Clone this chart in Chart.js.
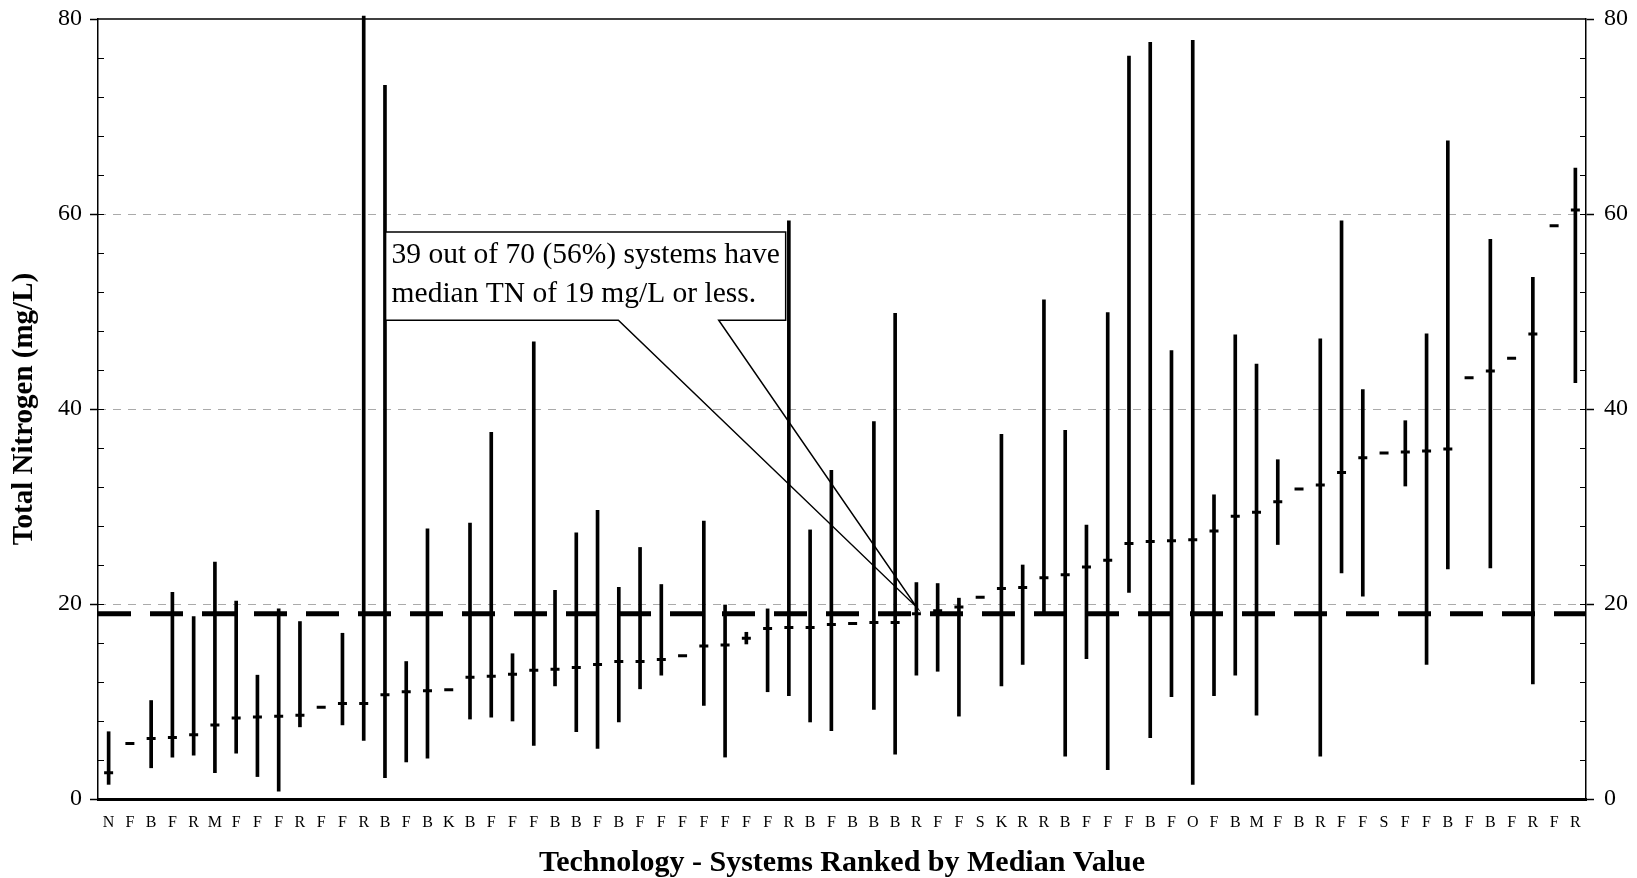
<!DOCTYPE html>
<html>
<head>
<meta charset="utf-8">
<title>Total Nitrogen by System</title>
<script src="https://cdn.jsdelivr.net/npm/chart.js@4.4.1/dist/chart.umd.min.js"></script>
<style>
  html, body { margin: 0; padding: 0; background: #fff; }
  #wrap { width: 1637px; height: 878px; }
</style>
</head>
<body>
<div id="wrap"><canvas id="tnChart" width="1637" height="878"></canvas></div>
<script>
// systems ranked by median total nitrogen (mg/L)
const technology = [
  'N','F','B','F','R','M','F','F','F','R','F','F','R','B','F','B','K','B','F','F',
  'F','B','B','F','B','F','F','F','F','F','F','F','R','B','F','B','B','B','R','F',
  'F','S','K','R','R','B','F','F','F','B','F','O','F','B','M','F','B','R','F','F',
  'S','F','F','B','F','B','F','R','F','R'
];
const tnMin = [
  1.5, 5.7, 3.2, 4.3, 4.5, 2.7, 4.7, 2.3, 0.8, 7.4, 9.4, 7.6, 6.0, 2.2, 3.8, 4.2, 11.2, 8.2, 8.4, 8.0,
  5.5, 11.6, 6.9, 5.2, 7.9, 11.3, 12.7, 14.7, 9.6, 4.3, 15.9, 11.0, 10.6, 7.9, 7.0, 18.0, 9.2, 4.6, 12.7, 13.1,
  8.5, 20.7, 11.6, 13.8, 19.1, 4.4, 14.4, 3.0, 21.2, 6.3, 10.5, 1.5, 10.6, 12.7, 8.6, 26.1, 31.8, 4.4, 23.2, 20.8,
  35.5, 32.1, 13.8, 23.6, 43.2, 23.7, 45.2, 11.8, 58.8, 42.7
];
const tnMedian = [
  2.7, 5.7, 6.2, 6.3, 6.6, 7.6, 8.3, 8.4, 8.5, 8.6, 9.4, 9.8, 9.8, 10.7, 11.0, 11.1, 11.2, 12.5, 12.6, 12.8,
  13.2, 13.3, 13.5, 13.8, 14.1, 14.1, 14.3, 14.7, 15.7, 15.8, 16.5, 17.5, 17.6, 17.6, 17.9, 18.0, 18.1, 18.1, 19.0, 19.3,
  19.7, 20.7, 21.6, 21.7, 22.7, 23.0, 23.8, 24.5, 26.2, 26.4, 26.5, 26.6, 27.5, 29.0, 29.4, 30.5, 31.8, 32.2, 33.5, 35.0,
  35.5, 35.6, 35.7, 35.9, 43.2, 43.9, 45.2, 47.7, 58.8, 60.4
];
const tnMax = [
  6.9, 5.7, 10.1, 21.2, 18.7, 24.3, 20.3, 12.7, 19.5, 18.2, 9.4, 17.0, 80.3, 73.2, 14.1, 27.7, 11.2, 28.3, 37.6, 14.9,
  46.9, 21.4, 27.3, 29.6, 21.7, 25.8, 22.0, 14.7, 28.5, 19.9, 17.1, 19.5, 59.3, 27.6, 33.7, 18.0, 38.7, 49.8, 22.2, 22.1,
  20.6, 20.7, 37.4, 24.0, 51.2, 37.8, 28.1, 49.9, 76.2, 77.6, 46.0, 77.8, 31.2, 47.6, 44.6, 34.8, 31.8, 47.2, 59.3, 42.0,
  35.5, 38.8, 47.7, 67.5, 43.2, 57.4, 45.2, 53.5, 58.8, 64.7
];
const yTicks = [0, 20, 40, 60, 80];
const THRESHOLD = 19;

const calloutLines = ['39 out of 70 (56%) systems have', 'median TN of 19 mg/L or less.'];
// callout placed in axis units: category index across, mg/L up
const callout = { x0: 13.03, x1: 31.85, yTop: 58.15, yBottom: 49.1, baseL: 23.98, baseR: 28.7, tipX: 38, tipY: 19.7 };

const serif = "'Liberation Serif', 'Times New Roman', serif";

const axisDecor = {
  id: 'axisDecor',
  beforeDatasetsDraw(chart) {
    const ctx = chart.ctx;
    const { left, right, top } = chart.chartArea;
    const y = chart.scales.y;
    ctx.save();

    // light dashed gridlines
    ctx.strokeStyle = '#aaa';
    ctx.lineWidth = 1;
    ctx.setLineDash([8, 7]);
    yTicks.filter(v => v > 0 && v < 80).forEach(v => {
      const py = Math.round(y.getPixelForValue(v)) + 0.5;
      ctx.beginPath(); ctx.moveTo(left, py); ctx.lineTo(right, py); ctx.stroke();
    });

    // 19 mg/L reference line
    ctx.strokeStyle = '#000';
    ctx.lineWidth = 5;
    ctx.setLineDash([33, 19]);
    const ty = y.getPixelForValue(THRESHOLD);
    ctx.beginPath(); ctx.moveTo(left, ty); ctx.lineTo(right, ty); ctx.stroke();

    // top frame
    ctx.setLineDash([]);
    ctx.lineWidth = 1.5;
    ctx.beginPath(); ctx.moveTo(left, top); ctx.lineTo(right, top); ctx.stroke();

    // minor ticks every 4 and inner half of major ticks
    ctx.lineWidth = 1;
    for (let v = 4; v < 80; v += 4) {
      const py = Math.round(y.getPixelForValue(v)) + 0.5;
      ctx.beginPath();
      ctx.moveTo(left, py); ctx.lineTo(left + 6, py);
      ctx.moveTo(right - 6, py); ctx.lineTo(right, py);
      ctx.stroke();
    }
    ctx.restore();
  },
  afterDatasetsDraw(chart) {
    const ctx = chart.ctx;
    const x = chart.scales.x, y = chart.scales.y;
    const bx0 = x.getPixelForValue(callout.x0), bx1 = x.getPixelForValue(callout.x1);
    const by0 = y.getPixelForValue(callout.yTop), by1 = y.getPixelForValue(callout.yBottom);
    const wl = x.getPixelForValue(callout.baseL), wr = x.getPixelForValue(callout.baseR);
    const tx = x.getPixelForValue(callout.tipX), ty = y.getPixelForValue(callout.tipY);

    ctx.save();
    ctx.fillStyle = '#fff';
    ctx.fillRect(bx0, by0, bx1 - bx0, by1 - by0);
    ctx.strokeStyle = '#000';
    ctx.lineWidth = 1.5;
    ctx.beginPath();
    ctx.moveTo(bx0, by0);
    ctx.lineTo(bx1, by0);
    ctx.lineTo(bx1, by1);
    ctx.lineTo(wr, by1);
    ctx.lineTo(tx, ty);
    ctx.lineTo(wl, by1);
    ctx.lineTo(bx0, by1);
    ctx.closePath();
    ctx.stroke();

    ctx.fillStyle = '#000';
    ctx.font = '29.5px ' + serif;
    ctx.textBaseline = 'alphabetic';
    ctx.textAlign = 'left';
    ctx.fillText(calloutLines[0], bx0 + 6, by0 + 31);
    ctx.fillText(calloutLines[1], bx0 + 6, by0 + 70);
    ctx.restore();
  }
};

const yAxis = (position, pad) => ({
  type: 'linear',
  position: position,
  min: 0,
  max: 80,
  ticks: {
    stepSize: 20,
    color: '#000',
    padding: pad,
    font: { family: serif, size: 24 }
  },
  grid: {
    drawOnChartArea: false,
    drawTicks: true,
    tickLength: 8,
    tickWidth: 1.5,
    tickColor: '#000',
    color: '#000'
  },
  border: { display: true, color: '#000', width: 1.5 }
});

const yLeft = yAxis('left', 8);
yLeft.title = {
  display: true,
  text: 'Total Nitrogen (mg/L)',
  color: '#000',
  font: { family: serif, size: 29, weight: 'bold' },
  padding: { top: 7, bottom: 0 }
};
yLeft.afterFit = s => { s.width = 98; s.paddingTop = 0; s.paddingBottom = 0; };

const yRight = yAxis('right', 10);
yRight.afterFit = s => { s.width = 51; s.paddingTop = 0; s.paddingBottom = 0; };

new Chart(document.getElementById('tnChart'), {
  data: {
    labels: technology,
    datasets: [
      {
        type: 'bar',
        label: 'Range',
        data: tnMin.map((lo, i) => [lo, tnMax[i]]),
        backgroundColor: '#000',
        borderWidth: 0,
        barThickness: 3,
        clip: false,
        yAxisID: 'y'
      },
      {
        type: 'line',
        label: 'Median',
        data: tnMedian,
        showLine: false,
        pointStyle: 'line',
        pointRadius: 4.5,
        pointHoverRadius: 4.5,
        pointBorderWidth: 3,
        borderColor: '#000',
        backgroundColor: '#000',
        yAxisID: 'y'
      }
    ]
  },
  options: {
    responsive: false,
    animation: false,
    layout: { padding: { top: 19, left: 0, right: 0, bottom: 0 } },
    plugins: {
      legend: { display: false },
      tooltip: { enabled: false }
    },
    scales: {
      x: {
        type: 'category',
        offset: true,
        grid: { display: false, drawTicks: false },
        border: { display: true, color: '#000', width: 3 },
        ticks: {
          color: '#000',
          padding: 14,
          autoSkip: false,
          maxRotation: 0,
          font: { family: serif, size: 16 }
        },
        title: {
          display: true,
          text: 'Technology - Systems Ranked by Median Value',
          color: '#000',
          font: { family: serif, size: 30, weight: 'bold', lineHeight: 1.0 },
          padding: { top: 0, bottom: 0 }
        },
        afterFit: s => { s.height = 79; s.paddingLeft = 0; s.paddingRight = 0; }
      },
      y: yLeft,
      y2: yRight
    }
  },
  plugins: [axisDecor]
});
</script>
</body>
</html>
